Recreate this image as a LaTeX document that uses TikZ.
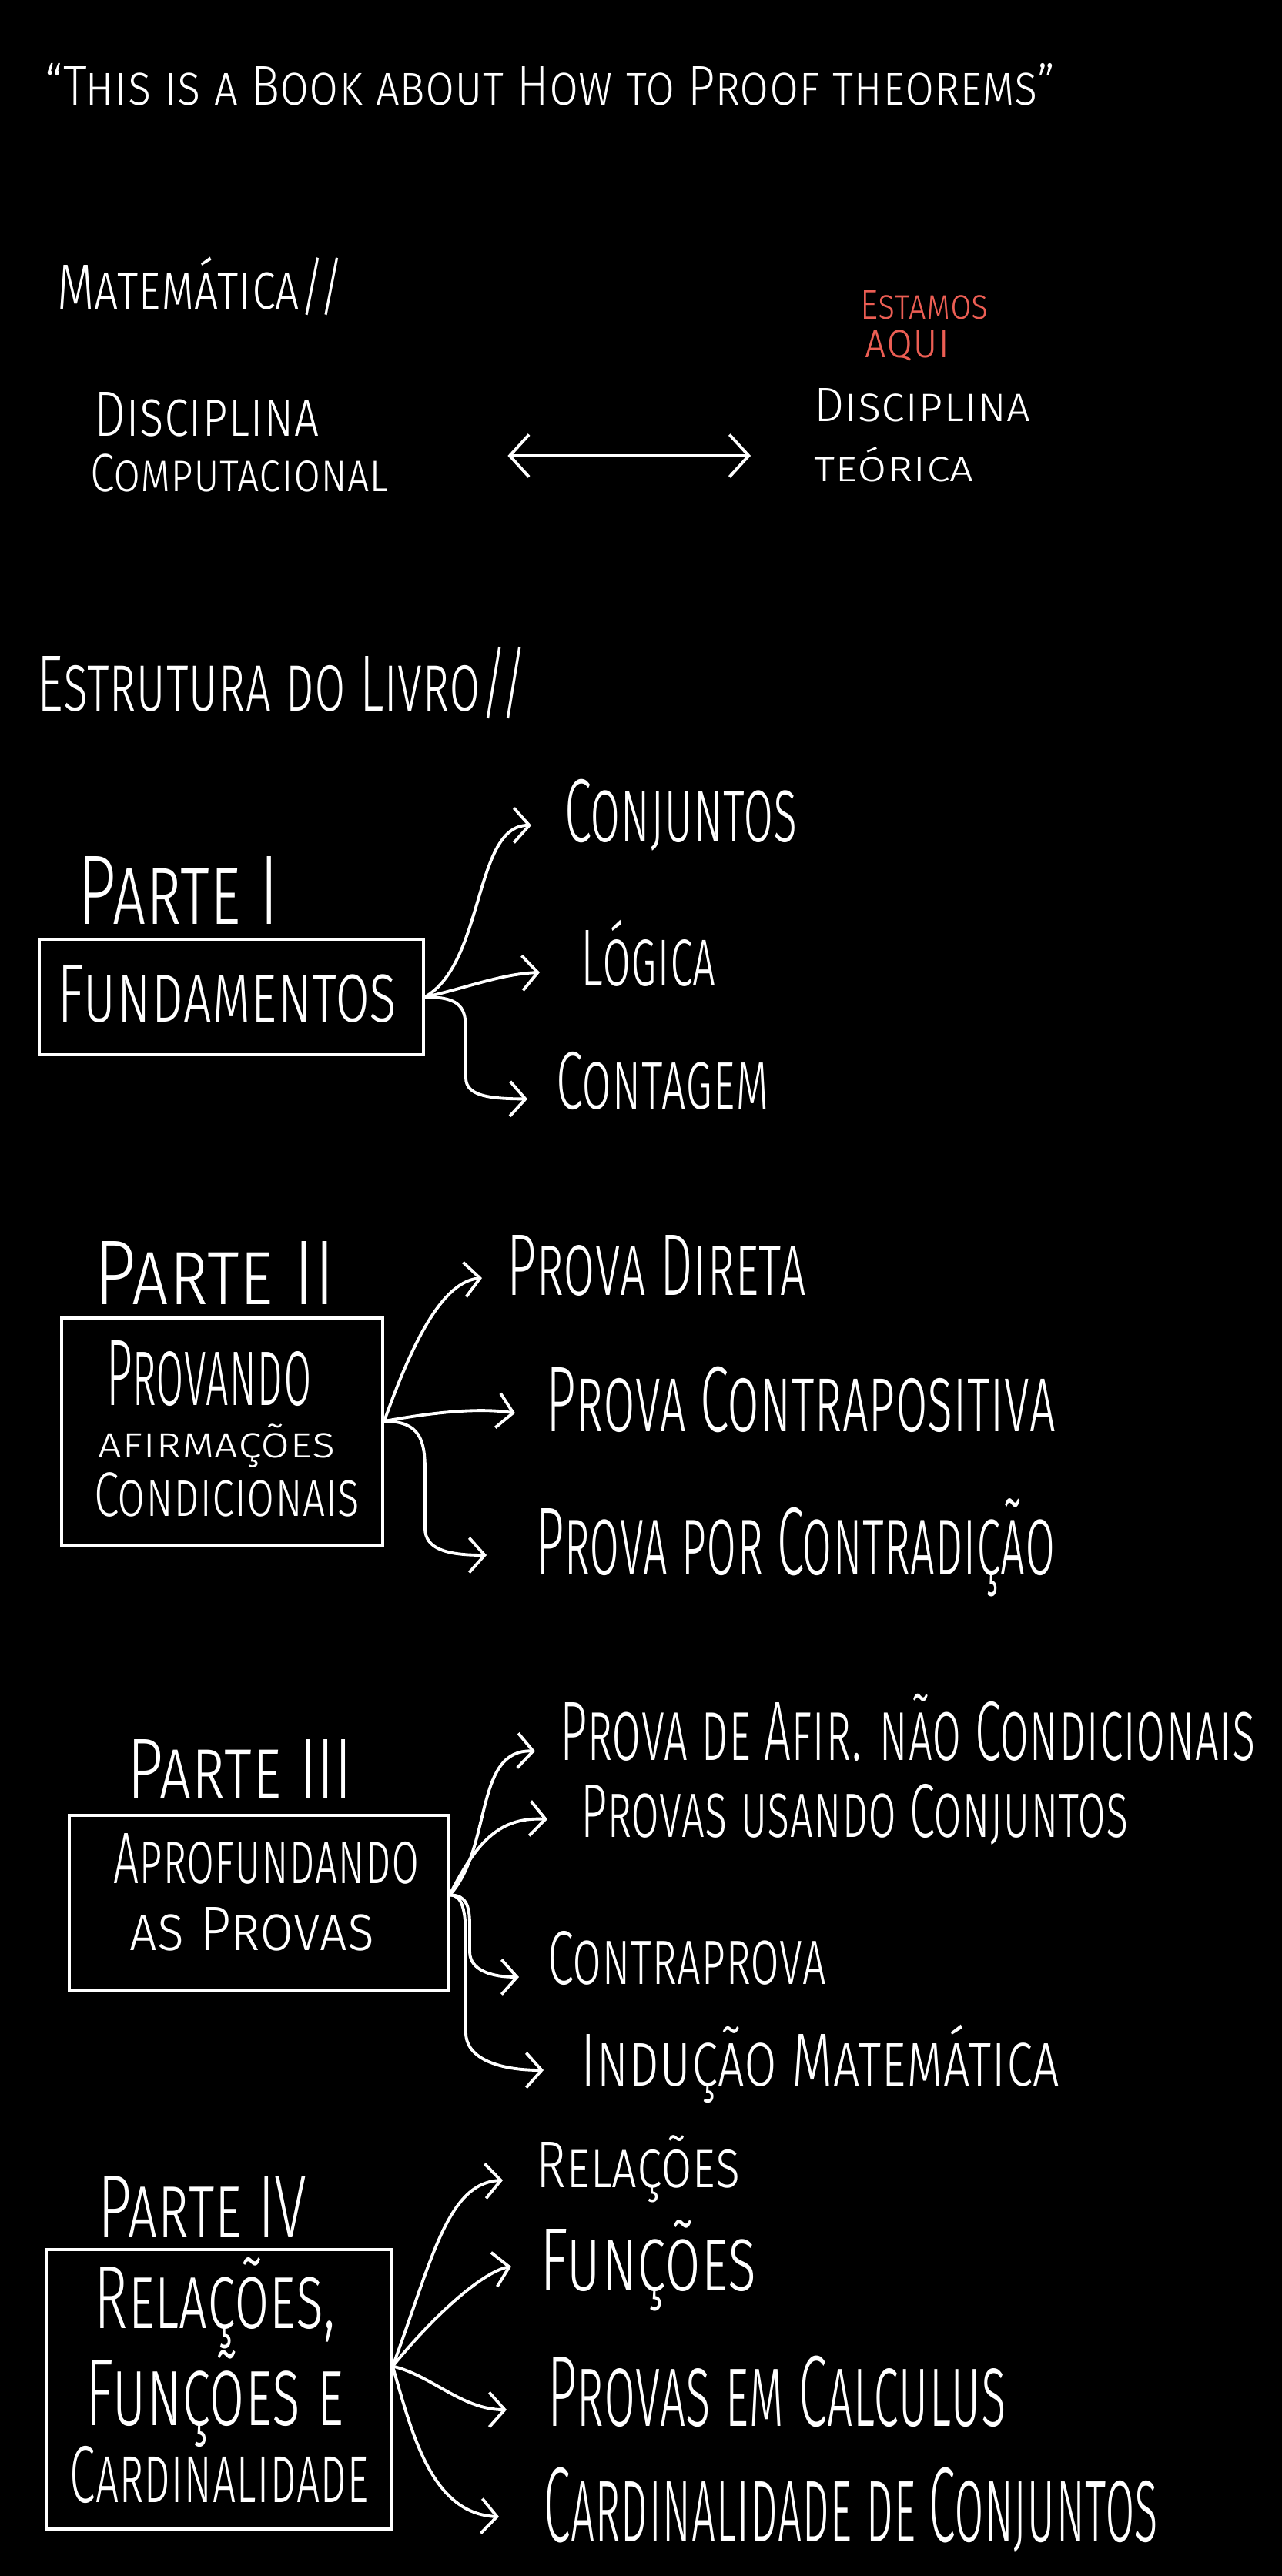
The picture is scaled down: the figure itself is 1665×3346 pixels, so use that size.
\documentclass[tikz,border=0pt]{standalone}
\usepackage{fontspec}
\setmainfont{Fira Sans Light}[Letters=SmallCaps]
\usetikzlibrary{arrows.meta}
\newdimen\pxu \pxu=0.1mm
\newcommand\hw[3]{\resizebox{#1\pxu}{#2\pxu}{\vphantom{X}\smash{#3}}}
\definecolor{redink}{RGB}{236,94,84}
\tikzset{
  txt/.style={anchor=base west, inner sep=0pt, text=white},
  redtxt/.style={txt, text=redink},
  partbox/.style={draw=white, line width=1.1pt, inner sep=0pt},
  conn/.style={draw=white, line width=1.1pt, -{Straight Barb[length=2mm,width=4.5mm]}},
  dbl/.style={draw=white, line width=1.1pt, {Straight Barb[length=2.5mm,width=5.5mm]}-{Straight Barb[length=2.5mm,width=5.5mm]}},
}
\begin{document}
\begin{tikzpicture}[x=0.1mm, y=-0.1mm]
\useasboundingbox (0,0) rectangle (1665,3346);
\fill[black] (0,0) rectangle (1665,3346);

% header
\node[txt] (t0) at (58,137) {\hw{1312}{50}{“This is a Book about How to Proof theorems”}};
\node[txt] (mat) at (74,402) {\hw{372}{57}{Matemática//}};
\node[redtxt] (aq) at (1117,415) {\hw{166}{37}{Estamos}\hspace{-160\pxu}\raisebox{-50\pxu}{\hw{110}{43}{aqui}}\hspace{50\pxu}};
\node[txt] (dc1) at (122,567) {\hw{292}{57}{Disciplina}};
\node[txt] (dc2) at (117,638) {\hw{387}{48}{Computacional}};
\node[txt] (dt1) at (1057,548) {\hw{281}{43}{Disciplina}};
\node[txt] (dt2) at (1057,625) {\hw{207}{38}{teórica}};
\draw[dbl] ([shift={(154,-22)}]dc2.east) -- ([shift={(-82,-14)}]dt2.west);

\node[txt] (est) at (48,923) {\hw{636}{71}{Estrutura do Livro//}};

% Parte I
\node[txt] (p1) at (101,1200) {\hw{260}{88}{Parte I}};
\node[partbox, minimum width=499\pxu, minimum height=150\pxu] (b1) at (300.5,1295) {};
\node[txt] (b1t) at (74,1327) {\hw{441}{74}{Fundamentos}};
\node[txt] (c1) at (733,1093) {\hw{302}{80}{Conjuntos}};
\node[txt] (c2) at (754,1280) {\hw{175}{72}{Lógica}};
\node[txt] (c3) at (722,1440) {\hw{276}{73}{Contagem}};
\draw[conn] (b1.east) .. controls (630,1250) and (615,1072) .. ([shift={(-43,19)}]c1.west);
\draw[conn] (b1.east) .. controls (600,1285) and (650,1265) .. ([shift={(-53,19)}]c2.west);
\draw[conn] (b1.east) .. controls (600,1295) and (605,1310) .. (605,1340) -- (605,1400) .. controls (605,1425) and (640,1427) .. ([shift={(-37,24)}]c3.west);

% Parte II
\node[txt] (p2) at (122,1694) {\hw{313}{82}{Parte II}};
\node[partbox, minimum width=417\pxu, minimum height=296\pxu] (b2) at (288.5,1860) {};
\node[txt] (b2a) at (138,1825) {\hw{266}{84}{Provando}};
\node[txt] (b2b) at (127,1893) {\hw{308}{38}{afirmações}};
\node[txt] (b2c) at (122,1969) {\hw{345}{56}{Condicionais}};
\node[txt] (d1) at (658,1682) {\hw{388}{78}{Prova Direta}};
\node[txt] (d2) at (709,1859) {\hw{661}{83}{Prova Contrapositiva}};
\node[txt] (d3) at (696,2045) {\hw{674}{86}{Prova por Contradição}};
\draw[conn] ([yshift=1.4mm]b2.east) .. controls (530,1760) and (570,1665) .. ([shift={(-32,17)}]d1.west);
\draw[conn] ([yshift=1.4mm]b2.east) .. controls (560,1835) and (620,1828) .. ([shift={(-40,18)}]d2.west);
\draw[conn] ([yshift=1.4mm]b2.east) .. controls (545,1846) and (552,1870) .. (552,1910) -- (552,1985) .. controls (552,2012) and (580,2020) .. ([shift={(-64,18)}]d3.west);

% Parte III
\node[txt] (p3) at (165,2335) {\hw{292}{76}{Parte III}};
\node[partbox, minimum width=492\pxu, minimum height=227\pxu] (b3) at (336,2471.5) {};
\node[txt] (b3a) at (147,2446) {\hw{397}{65}{Aprofundando}};
\node[txt] (b3b) at (168,2533) {\hw{318}{56}{as Provas}};
\node[txt] (e1) at (727,2286) {\hw{903}{75}{Prova de Afir. não Condicionais}};
\node[txt] (e2) at (754,2386) {\hw{711}{68}{Provas usando Conjuntos}};
\node[txt] (e3) at (711,2577) {\hw{361}{68}{Contraprova}};
\node[txt] (e4) at (754,2709) {\hw{621}{67}{Indução Matemática}};
\draw[conn] ([yshift=1mm]b3.east) .. controls (640,2400) and (615,2272) .. ([shift={(-32,26)}]e1.west);
\draw[conn] ([yshift=1mm]b3.east) .. controls (620,2390) and (650,2360) .. ([shift={(-43,11)}]e2.west);
\draw[conn] ([yshift=1mm]b3.east) .. controls (605,2461) and (610,2475) .. (610,2500) -- (610,2535) .. controls (610,2560) and (640,2568) .. ([shift={(-37,25)}]e3.west);
\draw[conn] ([yshift=1mm]b3.east) .. controls (600,2461) and (605,2480) .. (605,2520) -- (605,2640) .. controls (605,2675) and (650,2689) .. ([shift={(-48,13.5)}]e4.west);

% Parte IV
\node[txt] (p4) at (127,2906) {\hw{271}{80}{Parte IV}};
\node[partbox, minimum width=448\pxu, minimum height=363\pxu] (b4) at (284,3103.5) {};
\node[txt] (b4a) at (122,3024) {\hw{313}{80}{Relações,}};
\node[txt] (b4b) at (111,3150) {\hw{335}{85}{Funções e}};
\node[txt] (b4c) at (90,3250) {\hw{388}{72}{Cardinalidade}};
\node[txt] (f1) at (696,2841) {\hw{265}{59}{Relações}};
\node[txt] (f2) at (701,2975) {\hw{281}{80}{Funções}};
\node[txt] (f3) at (711,3151) {\hw{595}{90}{Provas em Calculus}};
\node[txt] (f4) at (706,3301) {\hw{797}{95}{Cardinalidade de Conjuntos}};
\draw[conn] ([yshift=3mm]b4.east) .. controls (560,2940) and (580,2835) .. ([shift={(-43,20.5)}]f1.west);
\draw[conn] ([yshift=3mm]b4.east) .. controls (570,3000) and (630,2950) .. ([shift={(-37,9)}]f2.west);
\draw[conn] ([yshift=3mm]b4.east) .. controls (560,3085) and (600,3130) .. ([shift={(-53,24)}]f3.west);
\draw[conn] ([yshift=3mm]b4.east) .. controls (535,3160) and (560,3265) .. ([shift={(-58,15.5)}]f4.west);
\end{tikzpicture}
\end{document}
